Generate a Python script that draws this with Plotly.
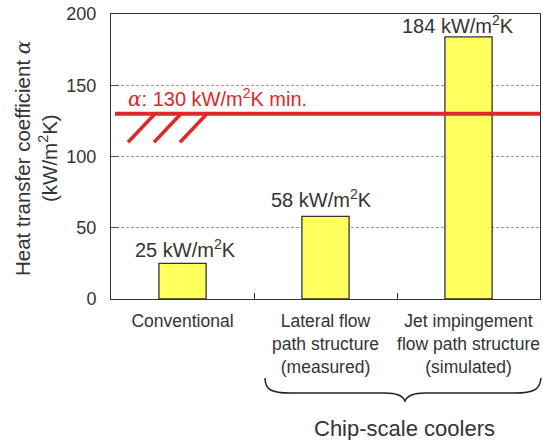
import plotly.graph_objects as go

# Cooler types and their heat transfer coefficients (kW/m²K)
categories = [
    "Conventional",
    "Lateral flow<br>path structure<br>(measured)",
    "Jet impingement<br>flow path structure<br>(simulated)",
]
alpha_values = [25, 58, 184]
required_alpha = 130
y_ticks = [0, 50, 100, 150, 200]

FONT = "Liberation Sans, Arial, Helvetica, sans-serif"
TEXT = "#333333"
RED = "#e02828"

# plot-area pixel geometry (used for decorations placed in paper space)
W, H = 543, 440
L, R, T, B = 111, 3, 14, 141
PW, PH = W - L - R, H - T - B


def px(xp):
    return (xp - L) / PW


def py(yp):
    return (H - B - yp) / PH


fig = go.Figure()
fig.add_trace(go.Bar(
    x=categories, y=alpha_values, width=0.33,
    marker=dict(color="#ffff5e", line=dict(color="#333333", width=1.3)),
    hoverinfo="skip",
))

# value labels above the bars
label_shift = [0, 3, -2]
label_xshift = [3, -4, -11]
for c, v, ys, xs in zip(categories, alpha_values, label_shift, label_xshift):
    fig.add_annotation(x=c, y=v, text=f"{v} kW/m<sup>2</sup>K", showarrow=False,
                       yanchor="bottom", yshift=ys, xshift=xs,
                       font=dict(family=FONT, size=20, color=TEXT))

# minimum requirement line with hatching below
fig.add_shape(type="line", xref="paper", yref="y", x0=px(115), x1=1,
              y0=required_alpha, y1=required_alpha,
              line=dict(color=RED, width=4))
hatch_drop = 20
for x_top in (155, 181, 207):
    fig.add_shape(type="line", xref="paper", yref="y",
                  x0=px(x_top - 27), y0=required_alpha - hatch_drop,
                  x1=px(x_top), y1=required_alpha,
                  line=dict(color=RED, width=3.5))
fig.add_annotation(xref="paper", yref="y", x=px(126), y=required_alpha,
                   xanchor="left", yanchor="bottom", yshift=1, showarrow=False,
                   text=(f"<span style='font-family:DejaVu Serif'><i>α</i></span>: "
                         f"{required_alpha} kW/m<sup>2</sup>K min."),
                   font=dict(family=FONT, size=20, color=RED))

# brace grouping the chip-scale coolers
brace_pts = [
    ("M", [(265, 378)]),
    ("C", [(265, 390), (272, 393), (290, 393)]),
    ("L", [(385, 393)]),
    ("C", [(398, 393), (403, 396), (405, 401)]),
    ("C", [(407, 396), (412, 393), (425, 393)]),
    ("L", [(515, 393)]),
    ("C", [(533, 393), (540, 390), (541, 378)]),
]
path = " ".join(cmd + " " + " ".join(f"{px(a):.4f},{py(b):.4f}" for a, b in pts)
                for cmd, pts in brace_pts)
fig.add_shape(type="path", xref="paper", yref="paper", path=path,
              line=dict(color="#222222", width=1.5))
fig.add_annotation(xref="paper", yref="paper", x=px(404), y=py(428),
                   xanchor="center", yanchor="middle",
                   text="Chip-scale coolers", showarrow=False,
                   font=dict(family=FONT, size=22, color=TEXT))

# y-axis title
fig.add_annotation(xref="paper", yref="paper", x=px(36), y=py(158),
                   xanchor="center", yanchor="middle",
                   text="Heat transfer coefficient <span style='font-family:DejaVu Serif'><i>α</i></span><br>(kW/m<sup>2</sup>K)",
                   textangle=-90, showarrow=False,
                   font=dict(family=FONT, size=20.5, color=TEXT))

fig.update_layout(
    width=W, height=H,
    margin=dict(l=L, r=R, t=T, b=B, autoexpand=False),
    paper_bgcolor="white", plot_bgcolor="white",
    showlegend=False, bargap=0.67,
    font=dict(family=FONT, color=TEXT),
)
fig.update_xaxes(
    range=[-0.5, 2.5], showgrid=False, showline=True, mirror=True,
    linecolor="#333333", linewidth=1, ticks="inside", tickson="boundaries",
    ticklen=6, tickcolor="#333333", ticklabelstandoff=6, tickangle=0,
    automargin=False,
    tickfont=dict(family=FONT, size=17.5, color=TEXT),
)
fig.update_yaxes(
    range=[0, 200], tickvals=y_ticks, showline=True, mirror=True,
    linecolor="#333333", linewidth=1, ticks="inside", ticklen=8,
    tickcolor="#555555", showgrid=True, gridcolor="#9a9a9a", gridwidth=1,
    griddash="3px,2px", zeroline=False, ticklabelstandoff=10, automargin=False,
    tickfont=dict(family=FONT, size=18, color=TEXT),
)

fig.write_html("out.html")
